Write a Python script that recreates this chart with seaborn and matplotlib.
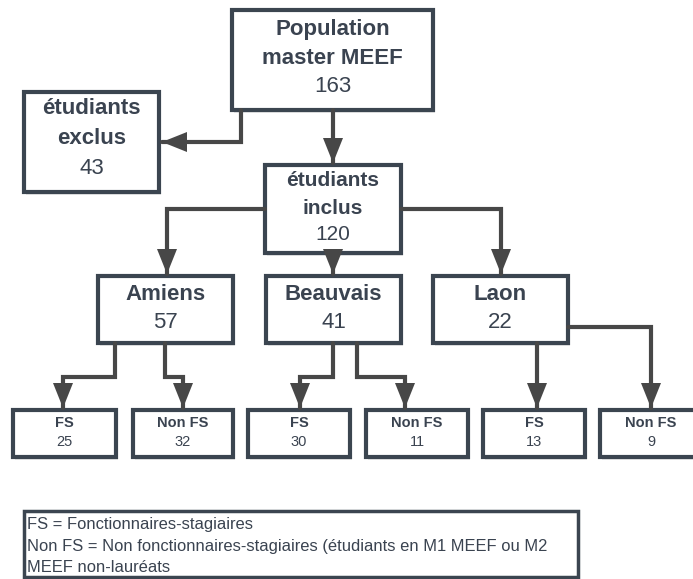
import matplotlib.pyplot as plt
import seaborn as sns
from matplotlib.patches import Rectangle

# ------------------------------------- data -------------------------------------------

top_label = ["Population", "master MEEF"]
top_count = 163
excluded_label = ["étudiants", "exclus"]
excluded_count = 43
included_label = ["étudiants", "inclus"]
included_count = 120

sites = ["Amiens", "Beauvais", "Laon"]
site_counts = [57, 41, 22]

sub_labels = ["FS", "Non FS", "FS", "Non FS", "FS", "Non FS"]
sub_counts = [25, 32, 30, 11, 13, 9]

legend_lines = [
    "FS = Fonctionnaires-stagiaires",
    "Non FS = Non fonctionnaires-stagiaires (étudiants en M1 MEEF ou M2",
    "MEEF non-lauréats",
]

# ------------------------------------- style ------------------------------------------

sns.set_theme(style="white")
plt.rcParams["font.family"] = ["Liberation Sans", "DejaVu Sans"]

EDGE = "#3b4550"
TXT = "#3a4350"
LINE = "#474747"

fig = plt.figure(figsize=(6.93, 5.79), dpi=100)
ax = fig.add_axes([0, 0, 1, 1])
ax.set_xlim(0, 693)
ax.set_ylim(579, 0)
ax.axis("off")


def box(x0, y0, x1, y1, lw=3.0):
    # faint drop shadow then the box
    ax.add_patch(Rectangle((x0 + 2, y0 + 3), x1 - x0, y1 - y0, facecolor="#e8e8e8",
                           edgecolor="none", zorder=1))
    ax.add_patch(Rectangle((x0, y0), x1 - x0, y1 - y0, facecolor="white",
                           edgecolor=EDGE, lw=lw, zorder=2))


def path(points):
    xs = [p[0] for p in points]
    ys = [p[1] for p in points]
    ax.plot(xs, ys, color=LINE, lw=3, solid_joinstyle="miter", zorder=3)
    # arrow head on last segment
    (xa, ya), (xb, yb) = points[-2], points[-1]
    ax.annotate("", xy=(xb, yb), xytext=(xa + (xb - xa) * 0.9, ya + (yb - ya) * 0.9),
                arrowprops=dict(arrowstyle="-|>,head_length=1.5,head_width=0.6",
                                color=LINE, lw=0, shrinkA=0, shrinkB=0), zorder=4)


def label(x, y, s, size, bold=False):
    ax.text(x, y, s, ha="center", va="center", fontsize=size, color=TXT,
            fontweight="bold" if bold else "normal", zorder=5)


# top level
box(232, 10, 433, 110)
label(332.5, 29, top_label[0], 16, bold=True)
label(332.5, 58, top_label[1], 16, bold=True)
label(332.5, 87, str(top_count), 16)

box(24, 92, 159, 192)
label(91.5, 109, excluded_label[0], 16, bold=True)
label(91.5, 139, excluded_label[1], 16, bold=True)
label(91.5, 168, str(excluded_count), 16)

box(265, 165, 401, 253)
label(333, 181, included_label[0], 15, bold=True)
label(333, 208, included_label[1], 15, bold=True)
label(333, 235, str(included_count), 15)

path([(241, 110), (241, 142), (162, 142)])
path([(333, 110), (333, 163)])

# sites
site_boxes = [(98, 233), (266, 401), (433, 568)]
for (x0, x1), name, n in zip(site_boxes, sites, site_counts):
    box(x0, 276, x1, 343)
    xc = (x0 + x1) / 2
    label(xc, 295, name, 16, bold=True)
    label(xc, 323, str(n), 16)

path([(265, 209), (167, 209), (167, 274)])
path([(333, 253), (333, 274)])
path([(401, 209), (501, 209), (501, 274)])

# sub groups
sub_boxes = [(13, 116), (133, 233), (248, 350), (366, 468), (483, 585), (600, 703)]
for (x0, x1), name, n in zip(sub_boxes, sub_labels, sub_counts):
    box(x0, 410, x1, 457)
    xc = (x0 + x1) / 2
    if x1 > 693:
        xc = 651
    label(xc, 423, name, 10.5, bold=True)
    label(xc, 442, str(n), 10.5)

path([(115, 343), (115, 377), (63, 377), (63, 408)])
path([(165, 343), (165, 377), (183, 377), (183, 408)])
path([(333, 343), (333, 377), (300, 377), (300, 408)])
path([(357, 343), (357, 377), (405, 377), (405, 408)])
path([(537, 343), (537, 408)])
path([(568, 327), (651, 327), (651, 408)])

# legend
ax.add_patch(Rectangle((24, 511), 554, 66, facecolor="white", edgecolor=EDGE, lw=2.5, zorder=2))
for i, line in enumerate(legend_lines):
    ax.text(27, 524 + i * 22, line, ha="left", va="center", fontsize=11.9, color=TXT, zorder=5)

fig.savefig("out.png", dpi=100)
